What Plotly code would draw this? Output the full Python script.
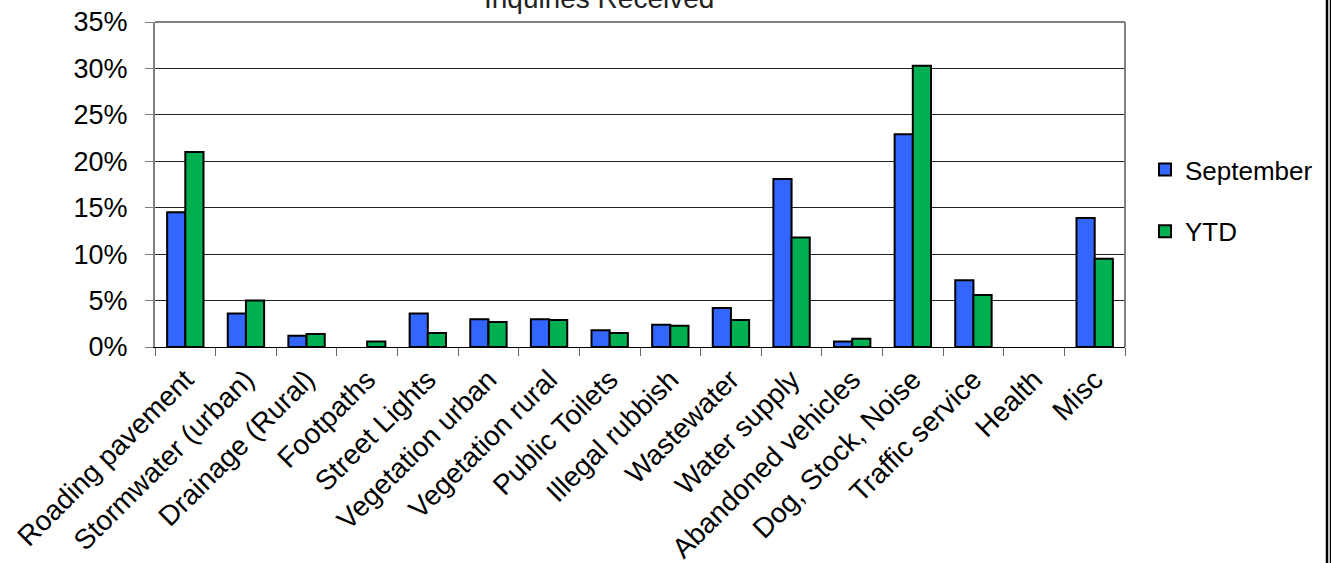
import plotly.graph_objects as go

categories = ["Roading pavement", "Stormwater (urban)", "Drainage (Rural)", "Footpaths",
              "Street Lights", "Vegetation urban", "Vegetation rural", "Public Toilets",
              "Illegal rubbish", "Wastewater", "Water supply", "Abandoned vehicles",
              "Dog, Stock, Noise", "Traffic service", "Health", "Misc"]
september = [0.145, 0.036, 0.012, 0.0, 0.036, 0.030, 0.030, 0.018,
             0.024, 0.042, 0.181, 0.006, 0.229, 0.072, 0.0, 0.139]
ytd = [0.210, 0.050, 0.014, 0.006, 0.015, 0.027, 0.029, 0.015,
       0.023, 0.029, 0.118, 0.009, 0.303, 0.056, 0.0, 0.095]
yticks = [0, 0.05, 0.10, 0.15, 0.20, 0.25, 0.30, 0.35]

FONT = "Liberation Sans, Arial, sans-serif"


def outline(values):
    return [2 if v > 0 else 0 for v in values]


fig = go.Figure()
fig.add_trace(go.Bar(x=categories, y=september, name="September", legendgroup="a",
                     marker=dict(color="#3366FF",
                                 line=dict(color="black", width=outline(september)))))
fig.add_trace(go.Bar(x=categories, y=ytd, name="YTD", legendgroup="b",
                     marker=dict(color="#00B050",
                                 line=dict(color="black", width=outline(ytd)))))

fig.update_layout(
    width=1331, height=563,
    margin=dict(l=155, r=206, t=22, b=216),
    paper_bgcolor="white", plot_bgcolor="white",
    barmode="group", bargap=0.4, bargroupgap=0,
    font=dict(family=FONT, color="black"),
    legend=dict(x=1.0206, y=0.618, xanchor="left", yanchor="top",
                font=dict(size=26), traceorder="grouped", tracegroupgap=25,
                bgcolor="rgba(0,0,0,0)"),
    xaxis=dict(type="category", tickangle=-45, tickfont=dict(size=28),
               showline=True, linecolor="black", linewidth=1,
               ticks="outside", tickson="boundaries", ticklen=8, tickcolor="#666666",
               showgrid=False, ticklabelstandoff=4, automargin=False),
    yaxis=dict(range=[0, 0.35], tickvals=yticks, tickformat=".0%",
               tickfont=dict(size=27), showgrid=True, gridcolor="#222222", gridwidth=1,
               showline=True, linecolor="#808080", linewidth=2,
               ticks="outside", ticklen=8, tickcolor="#808080", zeroline=False,
               ticklabelstandoff=12, automargin=False),
)
fig.add_annotation(text="Inquiries Received", xref="paper", yref="paper",
                   x=0.4577, y=1.0185, xanchor="center", yanchor="bottom",
                   showarrow=False, font=dict(size=28, color="#222222"))
# plot area frame (top and right edges)
fig.add_shape(type="line", xref="paper", yref="paper", x0=0, x1=1, y0=1, y1=1,
              line=dict(color="#808080", width=2))
fig.add_shape(type="line", xref="paper", yref="paper", x0=1, x1=1, y0=0, y1=1,
              line=dict(color="#808080", width=2))
# outer border on the right edge of the chart
fig.add_shape(type="line", xref="paper", yref="paper",
              x0=(1327 - 155) / 970, x1=(1327 - 155) / 970, y0=-1.0, y1=1.1,
              line=dict(color="black", width=2.5))
fig.add_shape(type="line", xref="paper", yref="paper",
              x0=(1330.5 - 155) / 970, x1=(1330.5 - 155) / 970, y0=-1.0, y1=1.1,
              line=dict(color="black", width=1.5))

fig.write_html("out.html", config={"displayModeBar": False},
               post_script="document.body.style.margin='0';")
